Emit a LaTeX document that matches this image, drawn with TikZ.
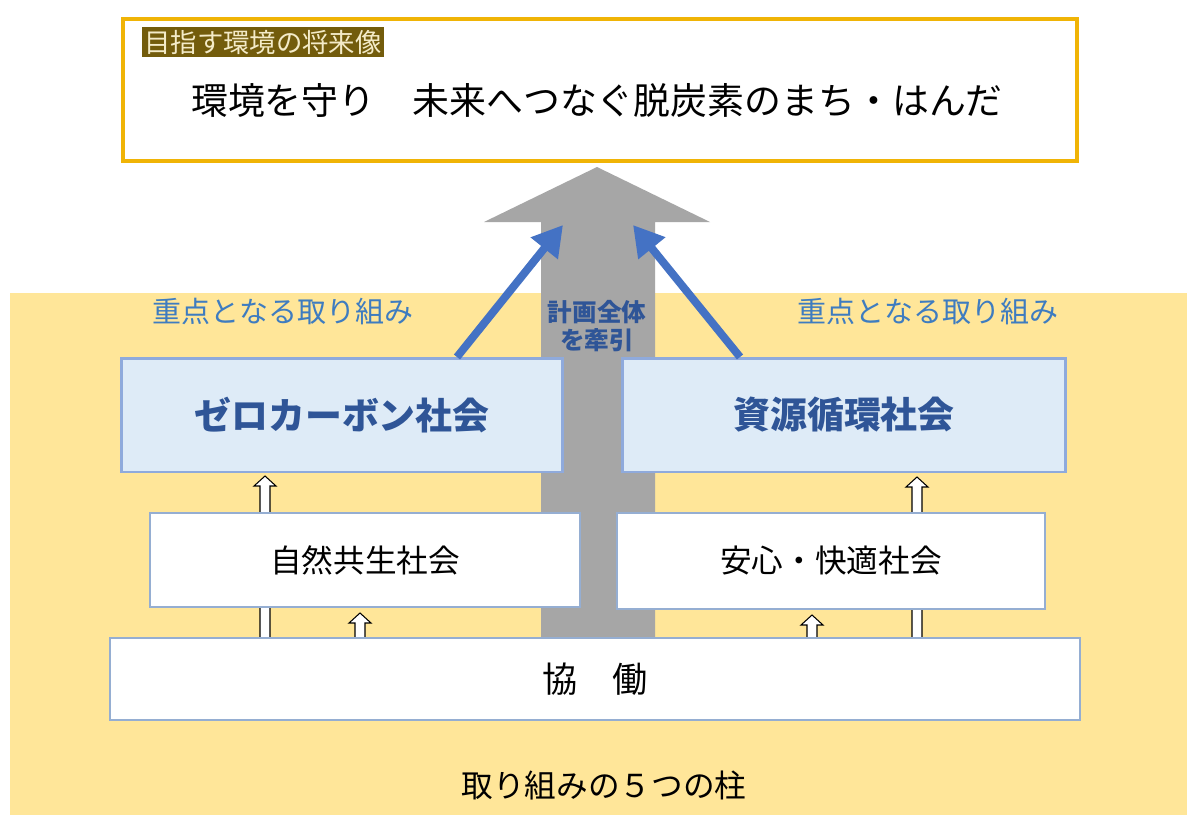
\documentclass[tikz,border=0pt]{standalone}
\usepackage{fontspec}
\setmainfont{Noto Sans CJK JP}
\usetikzlibrary{arrows.meta,calc}
\definecolor{pillarbg}{HTML}{FFE699}
\definecolor{goalline}{HTML}{F0B406}
\definecolor{tagbg}{HTML}{735C0C}
\definecolor{tagtext}{HTML}{F4EBC8}
\definecolor{leadgray}{HTML}{A6A6A6}
\definecolor{pushblue}{HTML}{4472C4}
\definecolor{focusblue}{HTML}{3E7CC0}
\definecolor{keyfill}{HTML}{DEEBF7}
\definecolor{keyline}{HTML}{8FAADC}
\definecolor{keytext}{HTML}{2F5597}
\definecolor{baseline}{HTML}{95AED2}
\begin{document}
\begin{tikzpicture}[x=0.02cm,y=-0.02cm,
  keybox/.style={draw=keyline,line width=1.7pt,fill=keyfill,text=keytext,font=\fontsize{21}{25}\selectfont\bfseries},
  basebox/.style={draw=baseline,line width=1.2pt,fill=white,font=\fontsize{18}{22}\selectfont},
  focus/.style={text=focusblue,font=\fontsize{16.5}{20}\selectfont}]
  \useasboundingbox (0,0) rectangle (1187,815);
  \fill[white] (0,0) rectangle (1187,815);
  \fill[pillarbg] (10,293) rectangle (1187,815);
  % leading arrow
  \fill[leadgray] (541,640) -- (541,222) -- (484,222) -- (597,167) -- (710,222) -- (655,222) -- (655,640) -- cycle;
  % small lifting arrows
  \foreach \x/\yb/\yt in {265/513/476, 265/638/590, 360/638/613, 917/513/477, 917/638/590, 812/638/615}
    \draw[baseline,line width=0.6pt,fill=white] (\x-5,\yb) -- (\x-5,\yt+10) -- (\x-11,\yt+10) -- (\x,\yt)
      -- (\x+11,\yt+10) -- (\x+5,\yt+10) -- (\x+5,\yb) -- cycle;
  % goal
  \node[draw=goalline,line width=2.6pt,fill=white,minimum width=19.08cm,minimum height=2.84cm] (goal) at (600,90) {};
  \node[fill=tagbg,text=tagtext,inner sep=1.5pt,font=\fontsize{15}{18}\selectfont] (tag) at (263,42) {目指す環境の将来像};
  \node[font=\fontsize{21}{25}\selectfont] (vision) at (597,100) {環境を守り　未来へつなぐ脱炭素のまち・はんだ};
  % pillars
  \node[keybox,minimum width=8.84cm,minimum height=2.28cm] (zero) at (342,415) {ゼロカーボン社会};
  \node[keybox,minimum width=8.88cm,minimum height=2.28cm] (cycle) at (844,415) {資源循環社会};
  \node[basebox,minimum width=8.6cm,minimum height=1.88cm] (nature) at (365,560) {自然共生社会};
  \node[basebox,minimum width=8.56cm,minimum height=1.92cm] (safe) at (831,561) {安心・快適社会};
  \node[basebox,font=\fontsize{20}{24}\selectfont,minimum width=19.4cm,minimum height=1.64cm] (collab) at (595,679) {協　働};
  % pushing arrows
  \coordinate (zs) at (457,357);
  \coordinate (zt) at (563,225);
  \coordinate (cs) at (740,357);
  \coordinate (ct) at (633,225);
  \draw[pushblue,line width=4.5pt,-{Triangle[length=0.6cm,width=0.66cm]}] (zs) -- (zt);
  \draw[pushblue,line width=4.5pt,-{Triangle[length=0.6cm,width=0.66cm]}] (cs) -- (ct);
  % labels
  \node[focus] (zfocus) at (283,312) {重点となる取り組み};
  \node[focus] (cfocus) at (928,312) {重点となる取り組み};
  \node[text=keytext,align=center,font=\fontsize{14}{16}\selectfont\bfseries] (lead) at (597,326) {計画全体\\を牽引};
  \node[font=\fontsize{18}{22}\selectfont] (five) at (604,785) {取り組みの５つの柱};
\end{tikzpicture}
\end{document}
